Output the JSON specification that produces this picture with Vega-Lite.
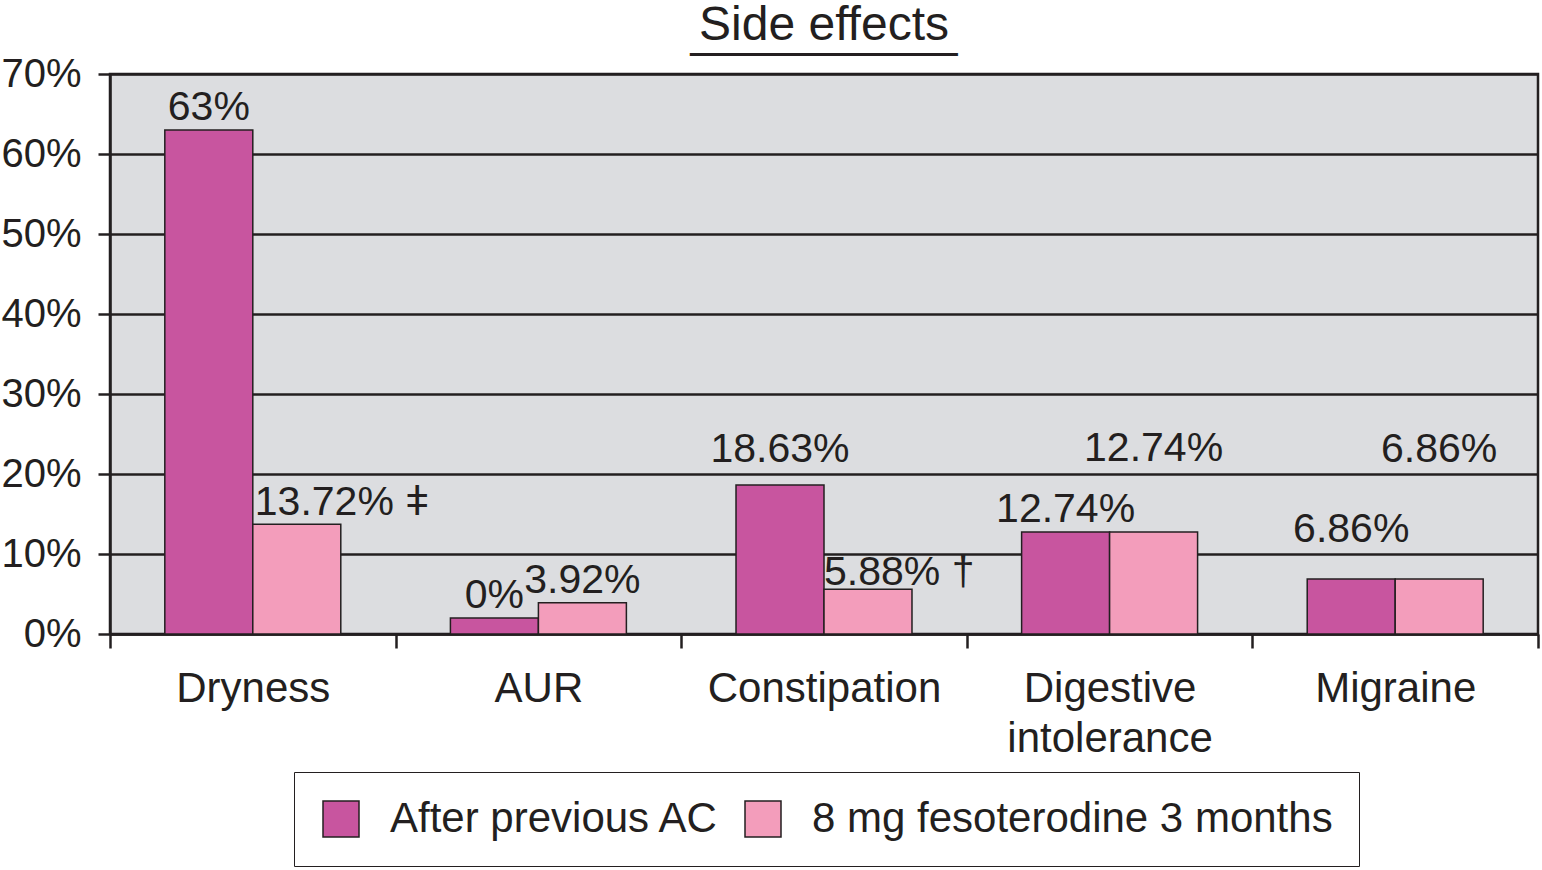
{
  "$schema": "https://vega.github.io/schema/vega-lite/v6.json",
  "width": 1428,
  "height": 560,
  "autosize": {"type": "none"},
  "padding": {"left": 110, "top": 74, "right": 4, "bottom": 236},
  "background": "white",
  "title": {
    "text": "Side effects",
    "subtitle": "__________",
    "anchor": "middle",
    "fontSize": 48,
    "font": "Liberation Sans",
    "fontWeight": "normal",
    "color": "#231f20",
    "subtitleFontSize": 48,
    "subtitleFont": "Liberation Sans",
    "subtitleColor": "#231f20",
    "subtitlePadding": -42,
    "offset": -2
  },
  "data": {
    "values": [
      {"cat": "Dryness", "series": "After previous AC", "value": 63, "label": "63%"},
      {"cat": "Dryness", "series": "8 mg fesoterodine 3 months", "value": 13.72, "label": "13.72%\u00a0ǂ"},
      {"cat": "AUR", "series": "After previous AC", "value": 2, "label": "0%"},
      {"cat": "AUR", "series": "8 mg fesoterodine 3 months", "value": 3.92, "label": "3.92%"},
      {"cat": "Constipation", "series": "After previous AC", "value": 18.63, "label": "18.63%"},
      {"cat": "Constipation", "series": "8 mg fesoterodine 3 months", "value": 5.6, "label": "5.88%\u00a0†"},
      {"cat": "Digestive intolerance", "series": "After previous AC", "value": 12.74, "label": "12.74%"},
      {"cat": "Digestive intolerance", "series": "8 mg fesoterodine 3 months", "value": 12.74, "label": "12.74%"},
      {"cat": "Migraine", "series": "After previous AC", "value": 6.86, "label": "6.86%"},
      {"cat": "Migraine", "series": "8 mg fesoterodine 3 months", "value": 6.86, "label": "6.86%"}
    ]
  },
  "encoding": {
    "x": {
      "field": "cat",
      "type": "nominal",
      "sort": null,
      "scale": {"paddingInner": 0, "paddingOuter": 0},
      "axis": {
        "title": null,
        "labelAngle": 0,
        "labelFont": "Liberation Sans",
        "labelFontSize": 42,
        "labelColor": "#231f20",
        "labelExpr": "split(datum.label, ' ')",
        "labelLineHeight": 50,
        "labelPadding": 20,
        "labelLimit": 500,
        "tickBand": "extent",
        "tickSize": 14,
        "tickWidth": 2.5,
        "tickColor": "#231f20",
        "domainColor": "#231f20",
        "domainWidth": 2.5,
        "grid": false
      }
    },
    "xOffset": {
      "field": "series",
      "type": "nominal",
      "sort": ["After previous AC", "8 mg fesoterodine 3 months"],
      "scale": {"paddingOuter": 0.623, "paddingInner": 0}
    },
    "y": {
      "field": "value",
      "type": "quantitative",
      "scale": {"domain": [0, 70], "nice": false},
      "axis": {
        "title": null,
        "values": [0, 10, 20, 30, 40, 50, 60, 70],
        "labelExpr": "datum.value + '%'",
        "labelFont": "Liberation Sans",
        "labelFontSize": 40,
        "labelColor": "#231f20",
        "labelPadding": 17,
        "tickSize": 12,
        "tickWidth": 2.5,
        "tickColor": "#231f20",
        "domainColor": "#231f20",
        "domainWidth": 2.5,
        "grid": true,
        "gridColor": "#231f20",
        "gridWidth": 2.5,
        "gridOpacity": 1
      }
    }
  },
  "layer": [
    {
      "mark": {"type": "bar", "stroke": "#231f20", "strokeWidth": 1.5},
      "encoding": {
        "color": {
          "field": "series",
          "type": "nominal",
          "sort": ["After previous AC", "8 mg fesoterodine 3 months"],
          "scale": {"range": ["#c8559f", "#f39dbb"]},
          "legend": {
            "title": null,
            "orient": "none",
            "legendX": 184,
            "legendY": 698,
            "direction": "horizontal",
            "symbolType": "square",
            "symbolSize": 1296,
            "symbolStrokeColor": "#231f20",
            "symbolStrokeWidth": 1.5,
            "symbolOpacity": 1,
            "labelFont": "Liberation Sans",
            "labelFontSize": 42,
            "labelColor": "#231f20",
            "labelOffset": 28,
            "columnPadding": 22,
            "padding": 26,
            "strokeColor": "#231f20",
            "fillColor": "white",
            "labelLimit": 800
          }
        }
      }
    },
    {
      "transform": [{"filter": "(datum.cat == 'Dryness' && datum.series == 'After previous AC') || datum.cat == 'AUR' || (datum.cat == 'Digestive intolerance' && datum.series == 'After previous AC')"}],
      "mark": {"type": "text", "font": "Liberation Sans", "fontSize": 41, "color": "#231f20", "baseline": "middle", "dy": -22},
      "encoding": {"text": {"field": "label"}}
    },
    {
      "transform": [{"filter": "datum.cat == 'Dryness' && datum.series == '8 mg fesoterodine 3 months'"}],
      "mark": {"type": "text", "font": "Liberation Sans", "fontSize": 41, "color": "#231f20", "baseline": "middle", "align": "left", "dx": -42, "dy": -21},
      "encoding": {"text": {"field": "label"}}
    },
    {
      "transform": [{"filter": "datum.cat == 'Constipation' && datum.series == '8 mg fesoterodine 3 months'"}],
      "mark": {"type": "text", "font": "Liberation Sans", "fontSize": 41, "color": "#231f20", "baseline": "middle", "align": "left", "dx": -44, "dy": -16},
      "encoding": {"text": {"field": "label"}}
    },
    {
      "transform": [{"filter": "datum.cat == 'Constipation' && datum.series == 'After previous AC'"}],
      "mark": {"type": "text", "font": "Liberation Sans", "fontSize": 41, "color": "#231f20", "baseline": "middle", "dy": -35},
      "encoding": {"text": {"field": "label"}}
    },
    {
      "transform": [{"filter": "datum.cat == 'Digestive intolerance' && datum.series == '8 mg fesoterodine 3 months'"}],
      "mark": {"type": "text", "font": "Liberation Sans", "fontSize": 41, "color": "#231f20", "baseline": "middle", "dy": -83},
      "encoding": {"text": {"field": "label"}}
    },
    {
      "transform": [{"filter": "datum.cat == 'Migraine' && datum.series == '8 mg fesoterodine 3 months'"}],
      "mark": {"type": "text", "font": "Liberation Sans", "fontSize": 41, "color": "#231f20", "baseline": "middle", "dy": -129},
      "encoding": {"text": {"field": "label"}}
    },
    {
      "transform": [{"filter": "datum.cat == 'Migraine' && datum.series == 'After previous AC'"}],
      "mark": {"type": "text", "font": "Liberation Sans", "fontSize": 41, "color": "#231f20", "baseline": "middle", "dy": -49},
      "encoding": {"text": {"field": "label"}}
    }
  ],
  "config": {
    "view": {"fill": "#dcdde0", "stroke": "#231f20", "strokeWidth": 2.5}
  }
}
